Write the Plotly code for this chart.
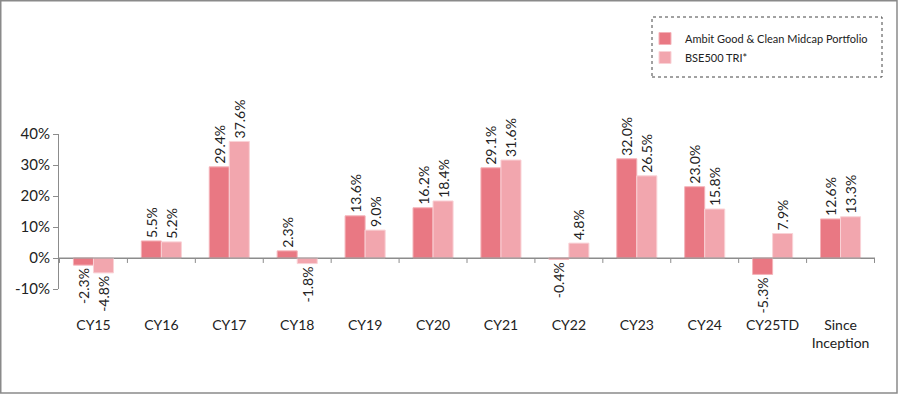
import plotly.graph_objects as go

categories = ["CY15", "CY16", "CY17", "CY18", "CY19", "CY20", "CY21", "CY22",
              "CY23", "CY24", "CY25TD", "Since<br>Inception"]
portfolio = [-2.3, 5.5, 29.4, 2.3, 13.6, 16.2, 29.1, -0.4, 32.0, 23.0, -5.3, 12.6]
benchmark = [-4.8, 5.2, 37.6, -1.8, 9.0, 18.4, 31.6, 4.8, 26.5, 15.8, 7.9, 13.3]
series_names = ["Ambit Good & Clean Midcap Portfolio", "BSE500 TRI*"]
tick_vals = [-10, 0, 10, 20, 30, 40]
tick_text = ["-10%", "0%", "10%", "20%", "30%", "40%"]

FONT = "Lato, 'Open Sans', sans-serif"
W, H = 900, 401
L, R, T, B = 59, 25, 134, 112

fig = go.Figure()
for name, vals, col, edge in [
    (series_names[0], portfolio, "#E97883", "#F4B3B9"),
    (series_names[1], benchmark, "#F2A6AE", "#F9D2D6"),
]:
    fig.add_trace(go.Bar(
        x=categories, y=vals, name=name,
        marker=dict(color=col, line=dict(color=edge, width=1)),
        text=[f"{v:.1f}%" for v in vals],
        textposition="outside", textangle=-90,
        constraintext="none",
        textfont=dict(family=FONT, size=14, color="#222"),
        cliponaxis=False,
    ))

pw = W - L - R
ph = H - T - B


def px_to_paper(px, py):
    return (px - L) / pw, (H - B - py) / ph


lx, ly = px_to_paper(645, 24)
fig.update_layout(
    width=W, height=H,
    margin=dict(l=L, r=R, t=T, b=B),
    paper_bgcolor="white", plot_bgcolor="white",
    barmode="group", bargap=0.41, bargroupgap=0,
    font=dict(family=FONT, color="#222"),
    legend=dict(
        x=lx, y=ly, xanchor="left", yanchor="top",
        font=dict(family=FONT, size=11, color="#222"),
        bgcolor="rgba(0,0,0,0)", borderwidth=0,
        itemwidth=30, tracegroupgap=4,
    ),
    xaxis=dict(
        showline=False, ticks="",
        tickfont=dict(family=FONT, size=14, color="#222"),
        ticklabelstandoff=26,
        showgrid=False, zeroline=False,
    ),
    yaxis=dict(
        range=[-10, 40], tickvals=tick_vals, ticktext=tick_text,
        showline=True, linecolor="#8c8c8c", linewidth=1,
        ticks="outside", ticklen=5, tickcolor="#8c8c8c",
        tickfont=dict(family=FONT, size=15, color="#222"),
        showgrid=False, zeroline=True, zerolinecolor="#8c8c8c", zerolinewidth=1,
    ),
)

# category axis line at zero with boundary ticks
fig.add_shape(type="line", xref="paper", yref="y", x0=0, x1=1, y0=0, y1=0,
              line=dict(color="#8c8c8c", width=1))
for i in range(len(categories) + 1):
    fig.add_shape(type="line", xref="x", yref="y",
                  x0=i - 0.5, x1=i - 0.5, y0=0, y1=-1.6,
                  line=dict(color="#8c8c8c", width=1))

# dashed legend box
x0, y0 = px_to_paper(652, 77)
x1, y1 = px_to_paper(882, 17)
fig.add_shape(type="rect", xref="paper", yref="paper", x0=x0, x1=x1, y0=y0, y1=y1,
              line=dict(color="#444", width=1, dash="dot"))
# outer border
bx0, by0 = px_to_paper(0.75, 393)
bx1, by1 = px_to_paper(897, 0.75)
fig.add_shape(type="rect", xref="paper", yref="paper", x0=bx0, x1=bx1, y0=by0, y1=by1,
              line=dict(color="#8a8a8a", width=1.5))

fig.write_html("out.html",
               config={"displayModeBar": False},
               post_script="document.body.style.margin='0';document.body.style.overflow='hidden';")
